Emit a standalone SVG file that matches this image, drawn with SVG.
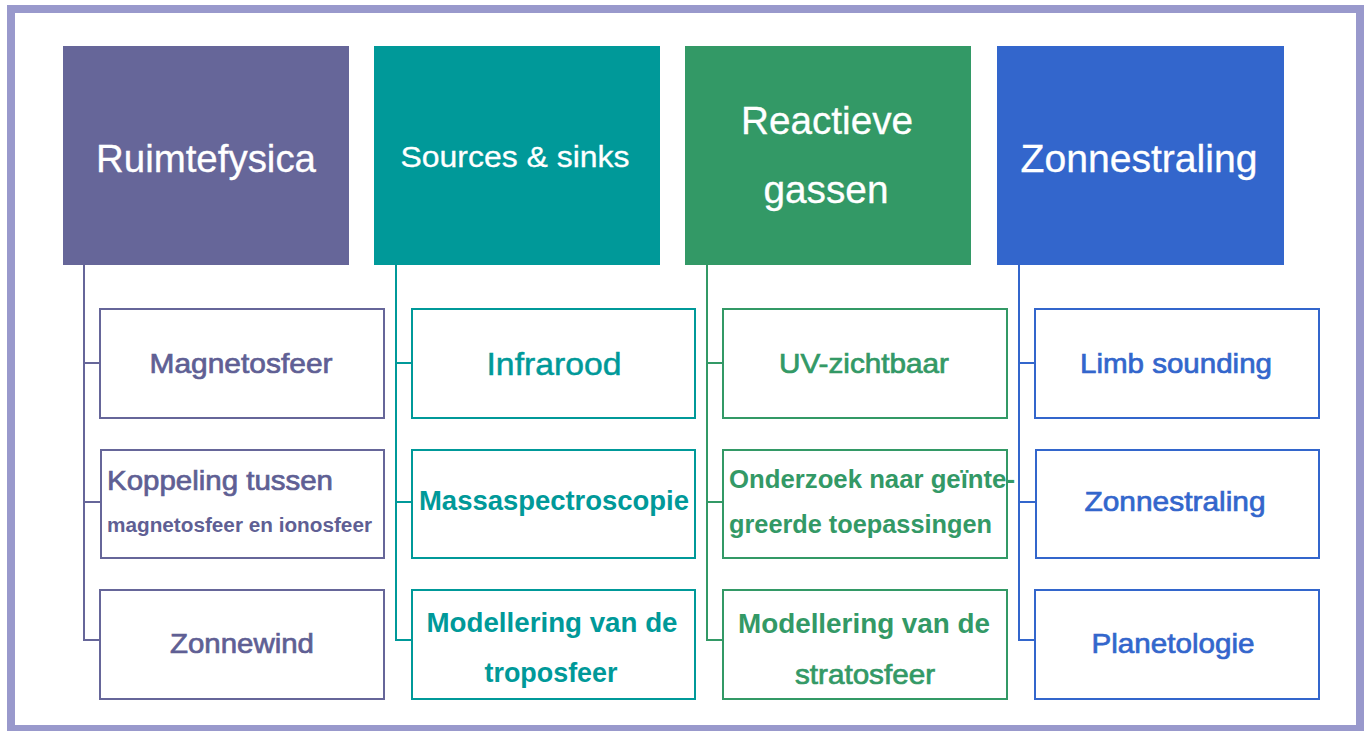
<svg xmlns="http://www.w3.org/2000/svg" width="1367" height="731" viewBox="0 0 1367 731">
<style>
text{font-family:"Liberation Sans",Arial,sans-serif}
.h{fill:#fff;font-size:38px;text-anchor:middle;stroke:#fff;stroke-width:0.3}
.c{fill:#fff;stroke-width:2}
.mid{text-anchor:middle}
.b{font-weight:bold}
.m{stroke-width:0.7}
.s{stroke-width:0.5}
.p{fill:#5f5f94;stroke:#5f5f94}.t{fill:#009999;stroke:#009999}.g{fill:#339966;stroke:#339966}.u{fill:#3366CC;stroke:#3366CC}
.b{stroke-width:0}
.ps{stroke:#666699}.ts{stroke:#009999}.gs{stroke:#339966}.us{stroke:#3366CC}
.ln{fill:none;stroke-width:2}
</style>
<rect x="0" y="0" width="1367" height="731" fill="#fff"/>
<rect x="11" y="9" width="1349" height="720" fill="#fff" stroke="#9999CC" stroke-width="8"/>
<g id="connectors" class="ln">
<path class="ps" d="M84 265V640H100M84 363H100M84 502H100"/>
<path class="ts" d="M396 265V640H412M396 363H412M396 502H412"/>
<path class="gs" d="M707 265V640H723M707 363H723M707 502H723"/>
<path class="us" d="M1019 265V640H1035M1019 363H1035M1019 502H1035"/>
</g>
<g id="h1"><rect x="63" y="46" width="286" height="219" fill="#666699"/><text class="h" x="206" y="172" textLength="220" lengthAdjust="spacingAndGlyphs">Ruimtefysica</text></g>
<g id="h2"><rect x="374" y="46" width="286" height="219" fill="#009999"/><text class="h" x="515" y="167" style="font-size:30px" textLength="229" lengthAdjust="spacingAndGlyphs">Sources &amp; sinks</text></g>
<g id="h3"><rect x="685" y="46" width="286" height="219" fill="#339966"/><text class="h" x="827" y="134" textLength="172" lengthAdjust="spacingAndGlyphs">Reactieve</text><text class="h" x="826" y="203" textLength="125" lengthAdjust="spacingAndGlyphs">gassen</text></g>
<g id="h4"><rect x="997" y="46" width="287" height="219" fill="#3366CC"/><text class="h" x="1139" y="172" textLength="237" lengthAdjust="spacingAndGlyphs">Zonnestraling</text></g>

<g id="c1a"><rect class="c ps" x="100" y="309" width="284" height="109"/><text class="p m mid" x="241" y="373" font-size="28" textLength="183" lengthAdjust="spacingAndGlyphs">Magnetosfeer</text></g>
<g id="c1b"><rect class="c ps" x="101" y="450" width="283" height="108"/><text class="p m" x="107" y="490" font-size="27" textLength="226" lengthAdjust="spacingAndGlyphs">Koppeling tussen</text><text class="p b" x="107" y="532" font-size="20" textLength="265" lengthAdjust="spacingAndGlyphs">magnetosfeer en ionosfeer</text></g>
<g id="c1c"><rect class="c ps" x="100" y="590" width="284" height="109"/><text class="p m mid" x="242" y="653" font-size="28" textLength="144" lengthAdjust="spacingAndGlyphs">Zonnewind</text></g>

<g id="c2a"><rect class="c ts" x="412" y="309" width="283" height="109"/><text class="t s mid" x="554" y="375" font-size="32" textLength="135" lengthAdjust="spacingAndGlyphs">Infrarood</text></g>
<g id="c2b"><rect class="c ts" x="412" y="450" width="283" height="108"/><text class="t mid b" x="554" y="510" font-size="27" textLength="270" lengthAdjust="spacingAndGlyphs">Massaspectroscopie</text></g>
<g id="c2c"><rect class="c ts" x="412" y="590" width="283" height="109"/><text class="t mid b" x="552" y="632" font-size="28" textLength="251" lengthAdjust="spacingAndGlyphs">Modellering van de</text><text class="t mid b" x="551" y="682" font-size="28" textLength="133" lengthAdjust="spacingAndGlyphs">troposfeer</text></g>

<g id="c3a"><rect class="c gs" x="723" y="309" width="284" height="109"/><text class="g m mid" x="864" y="373" font-size="28" textLength="170" lengthAdjust="spacingAndGlyphs">UV-zichtbaar</text></g>
<g id="c3b"><rect class="c gs" x="723" y="450" width="284" height="108"/><text class="g b" x="729" y="488" font-size="26" textLength="286" lengthAdjust="spacingAndGlyphs">Onderzoek naar geïnte-</text><text class="g b" x="729" y="533" font-size="26" textLength="263" lengthAdjust="spacingAndGlyphs">greerde toepassingen</text></g>
<g id="c3c"><rect class="c gs" x="723" y="590" width="284" height="109"/><text class="g mid b" x="864" y="633" font-size="28" textLength="252" lengthAdjust="spacingAndGlyphs">Modellering van de</text><text class="g m mid" x="865" y="684" font-size="28" textLength="140" lengthAdjust="spacingAndGlyphs">stratosfeer</text></g>

<g id="c4a"><rect class="c us" x="1035" y="309" width="284" height="109"/><text class="u m mid" x="1176" y="373" font-size="28" textLength="192" lengthAdjust="spacingAndGlyphs">Limb sounding</text></g>
<g id="c4b"><rect class="c us" x="1036" y="450" width="283" height="108"/><text class="u m mid" x="1175" y="511" font-size="28" textLength="181" lengthAdjust="spacingAndGlyphs">Zonnestraling</text></g>
<g id="c4c"><rect class="c us" x="1035" y="590" width="284" height="109"/><text class="u m mid" x="1173" y="653" font-size="28" textLength="163" lengthAdjust="spacingAndGlyphs">Planetologie</text></g>
</svg>
